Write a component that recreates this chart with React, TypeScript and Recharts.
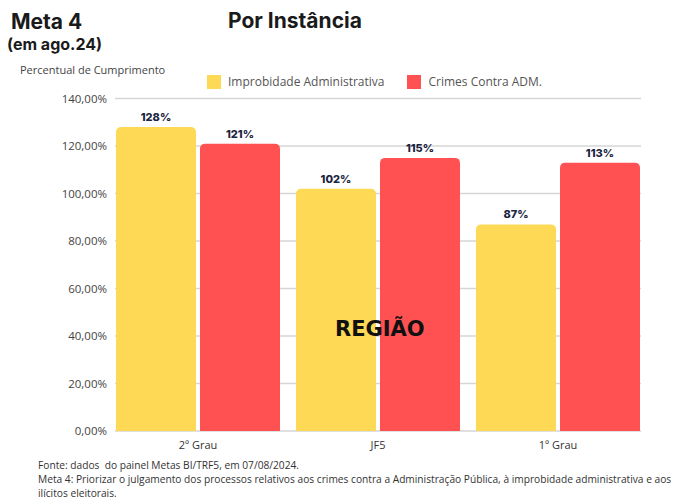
import React from "react";
import { BarChart, Bar, XAxis, YAxis, CartesianGrid, LabelList } from "recharts";

const categories = ["2º Grau", "JF5", "1º Grau"];
const improbidade = [128, 102, 87];
const crimes = [121, 115, 113];
const yTicks = [0, 20, 40, 60, 80, 100, 120, 140];
const seriesNames = ["Improbidade Administrativa", "Crimes Contra ADM."];

const data = categories.map((c, i) => ({ name: c, improbidade: improbidade[i], crimes: crimes[i] }));

const YELLOW = "#FDD955";
const RED = "#FF5151";

const labelStyle = { fill: "#1c2540", fontSize: 11, fontWeight: 800, fontFamily: "Inter" };

export default function App() {
  return (
    <div style={{ position: "absolute", left: 0, top: 0, width: 683, height: 501, background: "#fff", overflow: "hidden" }}>
      <BarChart
        width={683}
        height={501}
        data={data}
        margin={{ top: 98.5, right: 42, bottom: 40, left: 0 }}
        barGap={4}
        barSize={80}
      >
        <CartesianGrid vertical={false} stroke="#d6d6d6" strokeWidth={1.5} />
        <XAxis
          dataKey="name"
          axisLine={false}
          tickLine={false}
          height={30}
          padding={{ left: -7, right: -7 }}
          tick={{ fill: "#333", fontSize: 11, fontFamily: "Open Sans" }}
          tickMargin={4}
        />
        <YAxis
          width={115}
          domain={[0, 140]}
          ticks={yTicks}
          axisLine={false}
          tickLine={false}
          tick={{ fill: "#444", fontSize: 11.5, fontFamily: "Open Sans" }}
          tickFormatter={(v: number) => `${v},00%`}
        />
        <Bar dataKey="improbidade" name={seriesNames[0]} fill={YELLOW} radius={[5, 5, 0, 0]} isAnimationActive={false}>
          <LabelList dataKey="improbidade" position="top" offset={6} formatter={(v: number) => `${v}%`} style={labelStyle} />
        </Bar>
        <Bar dataKey="crimes" name={seriesNames[1]} fill={RED} radius={[5, 5, 0, 0]} isAnimationActive={false}>
          <LabelList dataKey="crimes" position="top" offset={6} formatter={(v: number) => `${v}%`} style={labelStyle} />
        </Bar>
      </BarChart>
      <div style={{ position: "absolute", left: 11, top: 9, fontFamily: "Inter", fontWeight: 700, fontSize: 21, color: "#1a1a1a" }}>Meta 4</div>
      <div style={{ position: "absolute", left: 7, top: 34, fontFamily: "Inter", fontWeight: 700, fontSize: 16, color: "#1a1a1a" }}>(em ago.24)</div>
      <div style={{ position: "absolute", left: 228, top: 8, fontFamily: "Inter", fontWeight: 700, fontSize: 21, color: "#1a1a1a" }}>Por Instância</div>
      <div style={{ position: "absolute", left: 20, top: 62, fontFamily: "Open Sans", fontSize: 11, color: "#444" }}>Percentual de Cumprimento</div>
      <div style={{ position: "absolute", left: 207, top: 73, display: "flex", alignItems: "center", fontFamily: "Open Sans", fontSize: 12, color: "#555" }}>
        <span style={{ width: 14, height: 14, background: YELLOW, display: "inline-block", marginRight: 7 }} />
        <span style={{ marginRight: 22 }}>{seriesNames[0]}</span>
        <span style={{ width: 14, height: 14, background: RED, display: "inline-block", marginRight: 8 }} />
        <span>{seriesNames[1]}</span>
      </div>
      <div style={{ position: "absolute", left: 335, top: 317, fontFamily: "DejaVu Sans", fontWeight: 700, fontSize: 21, color: "#111" }}>REGIÃO</div>
      <div style={{ position: "absolute", left: 38, top: 458, fontFamily: "Open Sans", fontSize: 10.2, color: "#333", lineHeight: "14px", whiteSpace: "nowrap" }}>
        <div>Fonte: dados&nbsp; do painel Metas BI/TRF5, em 07/08/2024.</div>
        <div>Meta 4: Priorizar o julgamento dos processos relativos aos crimes contra a Administração Pública, à improbidade administrativa e aos</div>
        <div>ilícitos eleitorais.</div>
      </div>
    </div>
  );
}
